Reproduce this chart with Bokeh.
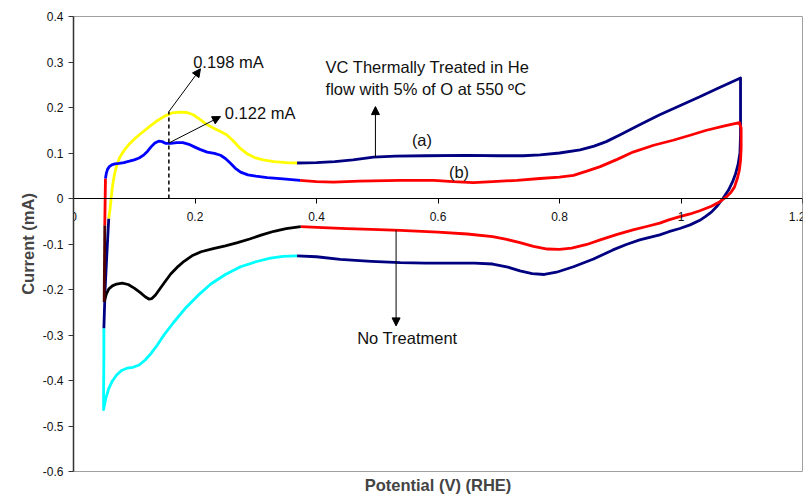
from bokeh.plotting import figure
from bokeh.models import Range1d, FixedTicker, Title, Label, Arrow, NormalHead
from bokeh.embed import file_html
from bokeh.resources import INLINE

# ---------------- data ----------------
x_ticks = [0, 0.2, 0.4, 0.6, 0.8, 1, 1.2]
x_tick_labels = ["0", "0.2", "0.4", "0.6", "0.8", "1", "1.2"]
y_ticks = [-0.6, -0.5, -0.4, -0.3, -0.2, -0.1, 0, 0.1, 0.2, 0.3, 0.4]
y_tick_labels = ["-0.6", "-0.5", "-0.4", "-0.3", "-0.2", "-0.1", "0", "0.1", "0.2", "0.3", "0.4"]

# (a) VC thermally treated -- anodic start (yellow)
a_yellow_x = [0.058, 0.060, 0.062, 0.064, 0.067, 0.071, 0.076, 0.083, 0.092, 0.102, 0.113, 0.125,
              0.138, 0.150, 0.162, 0.175, 0.187, 0.197, 0.207, 0.218, 0.230, 0.242, 0.252, 0.262,
              0.273, 0.285, 0.298, 0.312, 0.330, 0.350, 0.368]
a_yellow_y = [-0.044, -0.025, 0.0, 0.025, 0.05, 0.072, 0.090, 0.105, 0.120, 0.133, 0.145, 0.158,
              0.171, 0.181, 0.188, 0.190, 0.189, 0.184, 0.175, 0.164, 0.155, 0.147, 0.140, 0.128,
              0.112, 0.099, 0.090, 0.085, 0.081, 0.079, 0.078]
# (a) anodic + vertex + cathodic (navy)
a_navy_x = [0.368, 0.40, 0.43, 0.46, 0.494, 0.53, 0.58, 0.648, 0.70, 0.74, 0.768, 0.80, 0.834, 0.857,
            0.877, 0.90, 0.932, 0.965, 0.998, 1.03, 1.06, 1.098,
            1.098, 1.098, 1.097, 1.094, 1.090, 1.085, 1.078, 1.069, 1.060, 1.05, 1.04, 1.031, 1.015,
            0.998, 0.98, 0.965, 0.932, 0.91, 0.888, 0.856, 0.823, 0.795, 0.775, 0.755, 0.735, 0.715,
            0.69, 0.66, 0.62, 0.58, 0.538, 0.49, 0.439, 0.40, 0.368]
a_navy_y = [0.078, 0.079, 0.081, 0.085, 0.091, 0.093, 0.094, 0.095, 0.094, 0.094, 0.096, 0.100, 0.107,
            0.115, 0.125, 0.140, 0.162, 0.184, 0.204, 0.223, 0.242, 0.265,
            0.20, 0.14, 0.10, 0.075, 0.055, 0.037, 0.018, 0.0, -0.016, -0.030, -0.040, -0.048, -0.058,
            -0.066, -0.073, -0.080, -0.091, -0.101, -0.113, -0.133, -0.150, -0.162, -0.167, -0.165,
            -0.159, -0.151, -0.144, -0.142, -0.142, -0.142, -0.141, -0.138, -0.134, -0.128, -0.126]
# (a) cathodic end (cyan)
a_cyan_x = [0.368, 0.345, 0.324, 0.30, 0.275, 0.25, 0.226, 0.205, 0.185, 0.165, 0.15, 0.138, 0.128,
            0.118, 0.108, 0.098, 0.088, 0.079, 0.071, 0.064, 0.058, 0.053, 0.0495, 0.0495, 0.05, 0.05]
a_cyan_y = [-0.126, -0.127, -0.131, -0.139, -0.150, -0.167, -0.188, -0.213, -0.240, -0.272, -0.298,
            -0.322, -0.340, -0.355, -0.366, -0.371, -0.373, -0.378, -0.388, -0.401, -0.418, -0.440,
            -0.464, -0.43, -0.35, -0.285]
# (a) anodic vertical rise (navy)
a_rise_x = [0.05, 0.052, 0.055, 0.058]
a_rise_y = [-0.285, -0.2, -0.12, -0.044]

# (b) no treatment -- anodic start (blue)
b_blue_x = [0.0526, 0.054, 0.056, 0.059, 0.063, 0.068, 0.075, 0.083, 0.092, 0.10, 0.108, 0.116, 0.122,
            0.128, 0.134, 0.140, 0.146, 0.152, 0.16, 0.17, 0.18, 0.19, 0.198, 0.208, 0.22, 0.232,
            0.242, 0.250, 0.258, 0.266, 0.275, 0.287, 0.30, 0.319, 0.345, 0.373]
b_blue_y = [0.044, 0.055, 0.064, 0.070, 0.074, 0.076, 0.077, 0.079, 0.082, 0.085, 0.089, 0.096, 0.104,
            0.114, 0.122, 0.126, 0.125, 0.121, 0.121, 0.123, 0.123, 0.119, 0.114, 0.108, 0.102, 0.099,
            0.095, 0.088, 0.078, 0.067, 0.058, 0.052, 0.049, 0.046, 0.043, 0.040]
# (b) anodic + vertex + cathodic (red)
b_red_x = [0.373, 0.40, 0.428, 0.47, 0.538, 0.593, 0.625, 0.658, 0.69, 0.73, 0.768, 0.80, 0.823, 0.845,
           0.867, 0.895, 0.921, 0.955, 0.987, 1.015, 1.042, 1.07, 1.096,
           1.099, 1.099, 1.099, 1.098, 1.096, 1.093, 1.088, 1.082, 1.075, 1.064, 1.05, 1.031, 1.015,
           0.998, 0.98, 0.965, 0.945, 0.921, 0.895, 0.867, 0.845, 0.82, 0.80, 0.78, 0.757, 0.735,
           0.713, 0.69, 0.648, 0.60, 0.538, 0.49, 0.45, 0.41, 0.374]
b_red_y = [0.040, 0.037, 0.036, 0.038, 0.040, 0.040, 0.037, 0.035, 0.037, 0.040, 0.044, 0.047, 0.051,
           0.060, 0.070, 0.086, 0.102, 0.117, 0.128, 0.139, 0.150, 0.159, 0.167,
           0.155, 0.135, 0.11, 0.084, 0.062, 0.045, 0.025, 0.013, 0.004, -0.007, -0.017, -0.027,
           -0.034, -0.040, -0.047, -0.054, -0.061, -0.069, -0.079, -0.091, -0.101, -0.109, -0.112,
           -0.111, -0.105, -0.097, -0.090, -0.084, -0.078, -0.074, -0.070, -0.068, -0.066, -0.064,
           -0.062]
# (b) cathodic end (black)
b_black_x = [0.374, 0.35, 0.33, 0.31, 0.29, 0.27, 0.25, 0.23, 0.21, 0.195, 0.182, 0.17, 0.16, 0.15,
             0.142, 0.135, 0.129, 0.124, 0.118, 0.11, 0.10, 0.09, 0.08, 0.071, 0.064, 0.058, 0.054,
             0.0505]
b_black_y = [-0.062, -0.066, -0.072, -0.080, -0.089, -0.097, -0.104, -0.110, -0.117, -0.126, -0.138,
             -0.152, -0.166, -0.184, -0.199, -0.212, -0.220, -0.221, -0.216, -0.207, -0.197, -0.189,
             -0.186, -0.188, -0.192, -0.199, -0.210, -0.227]
# (b) anodic vertical rise (dark, then red)
b_rise_dark_x = [0.0505, 0.0515]
b_rise_dark_y = [-0.227, -0.059]
b_rise_red_x = [0.0515, 0.0526]
b_rise_red_y = [-0.059, 0.044]

peak_x = 0.157
peak_a = 0.191
peak_b = 0.122

FONT = "Liberation Sans"

p = figure(width=805, height=495, x_range=Range1d(0, 1.2), y_range=Range1d(-0.6, 0.4),
           output_backend="svg", toolbar_location=None,
           min_border_left=73, min_border_right=3, min_border_top=16, min_border_bottom=24)
p.grid.visible = False
p.outline_line_color = "#a0a0a0"
p.outline_line_width = 1
p.background_fill_color = "white"
p.border_fill_color = "white"

# x axis crossing at y = 0
xa = p.xaxis[0]
xa.fixed_location = 0
xa.ticker = FixedTicker(ticks=x_ticks)
xa.major_label_overrides = dict(zip(x_ticks, x_tick_labels))
xa.minor_tick_line_color = None
xa.major_tick_in = 0
xa.major_tick_out = 5
xa.major_label_standoff = 8
xa.axis_line_color = "black"
xa.major_tick_line_color = "black"
xa.major_label_text_font = FONT
xa.major_label_text_font_size = "12px"
xa.major_label_text_color = "#111111"

ya = p.yaxis[0]
ya.ticker = FixedTicker(ticks=y_ticks)
ya.major_label_overrides = dict(zip(y_ticks, y_tick_labels))
ya.minor_tick_line_color = None
ya.major_tick_in = 0
ya.major_tick_out = 5
ya.major_label_standoff = 5
ya.axis_line_color = "#333333"
ya.axis_line_width = 1.5
ya.major_tick_line_color = "#333333"
ya.major_label_text_font = FONT
ya.major_label_text_font_size = "12px"
ya.major_label_text_color = "#111111"
ya.axis_label = "Current (mA)"
ya.axis_label_text_font = FONT
ya.axis_label_text_font_style = "bold"
ya.axis_label_text_font_size = "16.5px"
ya.axis_label_standoff = 3

p.add_layout(Title(text="Potential (V) (RHE)", align="center", text_font=FONT,
                   text_font_style="bold", text_font_size="16.5px", standoff=4, offset=0), "below")

LW = 2.8
p.line(a_navy_x, a_navy_y, line_color="#000080", line_width=LW, line_join="round")
p.line(a_cyan_x, a_cyan_y, line_color="#00FFFF", line_width=LW, line_join="round")
p.line(a_rise_x, a_rise_y, line_color="#000080", line_width=LW, line_join="round")
p.line(b_red_x, b_red_y, line_color="#FF0000", line_width=LW, line_join="round")
p.line(b_black_x, b_black_y, line_color="#000000", line_width=LW, line_join="round")
p.line(b_rise_dark_x, b_rise_dark_y, line_color="#500000", line_width=LW, line_join="round")
p.line(b_rise_red_x, b_rise_red_y, line_color="#FF0000", line_width=LW, line_join="round")
p.line(a_yellow_x, a_yellow_y, line_color="#FFFF00", line_width=LW, line_join="round")
p.line(b_blue_x, b_blue_y, line_color="#0000FF", line_width=LW, line_join="round")

# dashed marker of the peak potential
p.segment(x0=[peak_x], y0=[0], x1=[peak_x], y1=[peak_a], line_color="black",
          line_width=1.5, line_dash="4 3")

def arrow(x0, y0, x1, y1):
    p.add_layout(Arrow(end=NormalHead(size=8, fill_color="black", line_color="black"),
                       x_start=x0, y_start=y0, x_end=x1, y_end=y1,
                       line_color="black", line_width=1))

arrow(peak_x, peak_a, 0.209, 0.285)
arrow(peak_x, peak_b, 0.242, 0.180)
arrow(0.497, 0.091, 0.497, 0.202)
arrow(0.531, -0.070, 0.531, -0.280)

def label(x, y, t):
    p.add_layout(Label(x=x, y=y, text=t, text_font=FONT, text_font_size="16.5px",
                       text_baseline="middle", text_align="left", text_color="#111111"))

label(0.197, 0.301, "0.198 mA")
label(0.249, 0.188, "0.122 mA")
label(0.415, 0.289, "VC Thermally Treated in He")
label(0.415, 0.241, "flow with 5% of O  at 550 ºC")
label(0.557, 0.128, "(a)")
label(0.618, 0.058, "(b)")
label(0.467, -0.307, "No Treatment")

open("out.html", "w").write(file_html(p, INLINE))
